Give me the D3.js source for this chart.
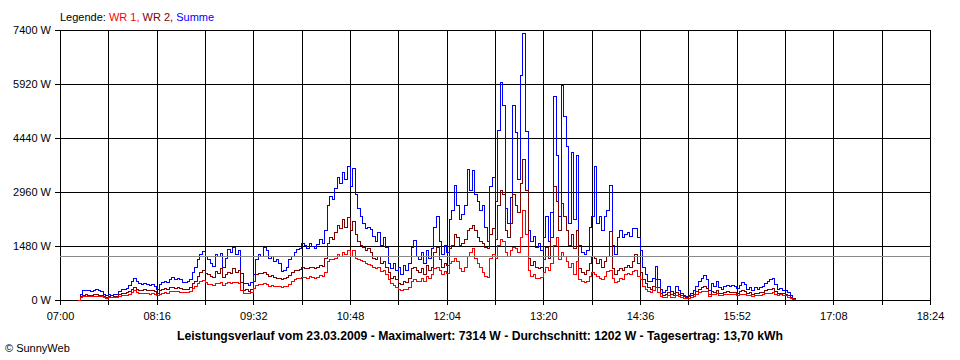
<!DOCTYPE html>
<html><head><meta charset="utf-8">
<script src="https://cdn.jsdelivr.net/npm/d3@7"></script>
<style>
body{margin:0;background:#fff;}
svg{display:block;font-family:"Liberation Sans",Arial,sans-serif;}
</style></head><body>
<svg id="chart" width="960" height="360"></svg>
<script>
// ---- data ----
const yTickValues = [0, 1480, 2960, 4440, 5920, 7400];
const xTickMinutes = [420,458,496,534,572,610,648,686,724,762,800,838,876,914,952,990,1028,1066,1104];
const xTickLabels = ["07:00","","08:16","","09:32","","10:48","","12:04","","13:20","","14:36","","15:52","","17:08","","18:24"];
const seriesStartMinute = 434;   // 07:14
const seriesStepMinutes = 2;
const averageValue = 1202;
const seriesNames = ["WR 1", "WR 2", "Summe"];
const titleText = "Leistungsverlauf vom 23.03.2009 - Maximalwert: 7314 W - Durchschnitt: 1202 W - Tagesertrag: 13,70 kWh";

const summe = [
0,150,255,260,250,240,270,275,250,230,
140,130,140,135,150,145,230,290,280,320,
400,520,585,500,440,420,460,430,400,420,
380,300,420,480,520,470,560,630,560,600,
560,480,470,500,560,760,900,1100,1250,1320,
1200,1100,1000,920,1250,1200,1270,900,1150,1380,
1300,1450,1250,1350,720,440,460,400,470,700,
1100,1250,1200,1450,1350,1150,1200,1050,1100,1000,
780,800,900,1100,1200,1300,1380,1420,1550,1500,
1420,1550,1480,1400,1520,1650,1560,1900,2600,2850,
2750,3050,3350,3200,3500,3300,3650,3100,3600,2900,
2500,2300,2100,1950,2000,1920,1750,1600,1850,1500,
1700,1450,1000,850,1000,800,900,700,950,800,
1000,1450,1640,1200,1100,1300,1000,1350,1150,1400,
2000,2290,1600,1250,1500,1300,2200,2450,3150,2600,
2200,2350,2600,3580,3000,3560,2900,2700,2450,2600,
2000,1600,3100,3350,2700,4650,5970,5340,2500,2100,
2800,5340,4600,3300,6150,7314,4630,1900,1600,1750,
1450,1550,1350,1700,2300,1600,2400,5590,3950,2300,
5870,5020,4200,2100,4030,2200,3950,1500,1300,1250,
1350,2000,2300,3670,2100,2300,1900,2300,2450,3150,
1500,1250,1700,1900,1700,1800,1850,1750,1950,1960,
1700,1350,900,700,520,500,600,930,550,300,
200,250,370,220,180,370,270,170,120,100,
130,180,250,370,500,600,685,550,250,450,
380,500,330,300,370,400,370,400,380,320,
400,470,420,300,350,270,330,300,350,380,
460,500,550,600,420,300,320,270,250,200,
120,50,0];

const wr2 = [
0,90,137,140,130,130,150,145,130,120,
90,80,85,80,90,85,140,180,170,200,
240,300,337,300,270,260,280,265,250,260,
230,190,250,290,310,290,330,350,320,340,
320,300,290,300,330,450,520,640,760,800,
720,700,650,620,780,740,850,620,700,760,
720,850,760,800,480,250,280,230,300,500,
700,740,720,760,700,640,660,620,600,580,
560,580,620,680,760,800,820,840,880,870,
850,900,880,860,900,940,920,1150,1550,1700,
1650,1850,2050,1950,2200,2000,2250,1900,2150,1800,
1600,1500,1450,1350,1400,1300,1150,1100,1200,1000,
1050,900,750,600,650,550,450,420,500,480,
600,850,900,800,750,850,700,950,800,900,
1300,1450,1100,900,1000,950,1400,1500,1800,1700,
1500,1550,1650,1900,1950,2050,1900,1700,1600,1550,
1450,1400,1800,1950,1650,2600,3000,2900,1900,1700,
2100,2900,2600,2400,3200,3840,3000,1150,950,1050,
900,850,900,1100,1450,1150,1700,3100,2700,1900,
2650,2300,1900,1500,1800,1400,1900,850,750,700,
800,1000,1200,1150,1000,1100,900,1050,1200,1870,
850,700,800,850,800,900,950,900,1050,1250,
1000,750,550,450,330,300,380,550,330,170,
130,150,200,140,120,200,160,110,90,80,
90,110,150,220,290,330,360,320,150,240,
210,260,180,170,200,220,200,210,200,180,
230,250,230,170,200,160,190,180,200,210,
260,280,300,320,230,180,190,170,160,120,
80,40,0];

const wr1 = [
0,60,90,95,90,85,95,100,90,85,
55,50,55,55,60,60,90,110,110,120,
160,210,247,200,175,170,185,170,160,170,
150,120,160,190,210,190,220,240,220,230,
215,200,195,205,225,320,370,440,500,540,
480,430,420,400,460,450,470,400,440,470,
460,480,470,460,260,180,190,170,200,320,
400,430,420,450,420,380,400,370,380,360,
350,360,380,420,520,560,580,600,620,620,
600,640,620,580,620,680,650,750,1050,1120,
1100,1150,1250,1200,1300,1250,1350,1200,1350,1150,
1100,1080,1050,1000,980,950,880,850,900,780,
800,700,550,450,400,330,280,260,300,290,
350,500,550,500,520,580,500,650,600,700,
850,900,800,700,780,720,1000,1050,1150,1050,
850,780,880,1200,1300,1400,1150,1000,900,750,
650,620,1150,1250,1150,1500,1650,1600,1300,1200,
1350,1450,1400,1300,1700,2450,1800,800,650,700,
600,580,620,750,900,800,1000,1500,1700,1100,
1300,1200,1050,900,1000,700,1050,550,500,480,
500,650,750,700,650,600,550,650,780,800,
600,480,520,600,560,700,720,700,780,820,
650,550,380,300,220,200,250,350,200,90,
70,80,110,70,60,110,90,60,50,40,
50,70,90,140,200,230,240,220,100,150,
140,170,120,120,140,150,140,150,140,120,
150,160,150,110,130,100,120,110,130,140,
170,180,190,200,150,130,140,120,110,80,
50,20,0];

// ---- chart ----
(function () {
const svg = d3.select("#chart");
const pLeft = 60, pRight = 930, pTop = 30, pBottom = 300;
const x = d3.scaleLinear().domain([420, 1104]).range([pLeft, pRight]);
const y = d3.scaleLinear().domain([0, 7400]).range([pBottom, pTop]);
const px = v => Math.round(v) + 0.5;

const grid = svg.append("g").attr("shape-rendering", "crispEdges");
grid.selectAll("line.v").data(xTickMinutes).join("line").attr("class", "v")
  .attr("x1", d => px(x(d))).attr("x2", d => px(x(d)))
  .attr("y1", pTop).attr("y2", pBottom + 5)
  .attr("stroke", "#000");
grid.selectAll("line.h").data(yTickValues).join("line").attr("class", "h")
  .attr("x1", pLeft - 5).attr("x2", pRight + 1)
  .attr("y1", d => px(y(d))).attr("y2", d => px(y(d)))
  .attr("stroke", "#000");

// axes (labels)
const xAxis = d3.axisBottom(x).tickValues(xTickMinutes)
  .tickFormat((d, i) => xTickLabels[i]).tickSize(0).tickPadding(12);
const gx = svg.append("g").attr("transform", `translate(0,${pBottom})`).call(xAxis);
gx.select(".domain").remove();
gx.selectAll("text").attr("font-size", 11).attr("fill", "#000").attr("font-family", "Liberation Sans, Arial, sans-serif");

const yAxis = d3.axisLeft(y).tickValues(yTickValues)
  .tickFormat(d => d + " W").tickSize(0).tickPadding(9);
const gy = svg.append("g").attr("transform", `translate(${pLeft},0)`).call(yAxis);
gy.select(".domain").remove();
gy.selectAll("text").attr("font-size", 11).attr("fill", "#000").attr("font-family", "Liberation Sans, Arial, sans-serif");

// series
const n = Math.min(summe.length, wr1.length, wr2.length);
const t = i => seriesStartMinute + i * seriesStepMinutes;
const line = d3.line().x((d, i) => x(t(i))).y(d => y(d)).curve(d3.curveStepAfter);

const series = [
  {data: summe.slice(0, n), color: "#0000ff"},
  {data: wr2.slice(0, n), color: "#800000"},
  {data: wr1.slice(0, n), color: "#ff0000"}
];
svg.append("g").selectAll("path").data(series).join("path")
  .attr("d", d => line(d.data))
  .attr("fill", "none")
  .attr("stroke", d => d.color)
  .attr("stroke-width", 1)
  .attr("shape-rendering", "crispEdges");

// average line
svg.append("line")
  .attr("x1", pLeft).attr("x2", pRight)
  .attr("y1", px(y(averageValue))).attr("y2", px(y(averageValue)))
  .attr("stroke", "#8a8a8a").attr("shape-rendering", "crispEdges");

// legend
const legend = svg.append("text").attr("x", 60).attr("y", 21).attr("font-size", 11);
legend.append("tspan").attr("fill", "#000").text("Legende: ");
legend.append("tspan").attr("fill", "#ff0000").text(seriesNames[0] + ",");
legend.append("tspan").attr("fill", "#800000").text(" " + seriesNames[1] + ",");
legend.append("tspan").attr("fill", "#0000ff").text(" " + seriesNames[2]);

// title
svg.append("text").attr("x", 480).attr("y", 340).attr("text-anchor", "middle")
  .attr("font-size", 12).attr("font-weight", "bold")
  .attr("textLength", 606).attr("lengthAdjust", "spacingAndGlyphs")
  .text(titleText);

svg.append("text").attr("x", 5).attr("y", 352).attr("font-size", 11).text("© SunnyWeb");
})();
</script>
</body></html>
